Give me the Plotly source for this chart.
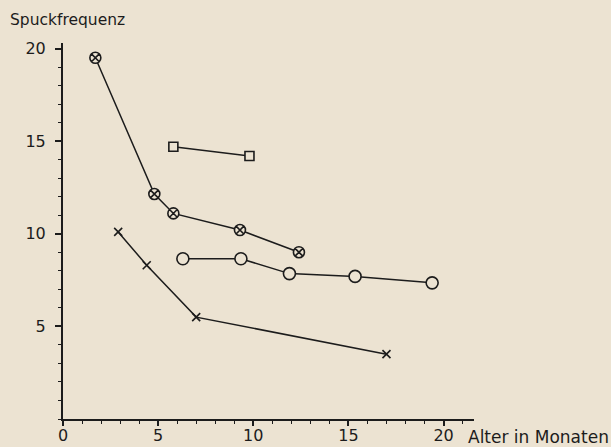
import plotly.graph_objects as go

# Data
age_cx = [1.7, 4.8, 5.8, 9.3, 12.4]
freq_cx = [19.5, 12.15, 11.1, 10.2, 9.0]

age_sq = [5.8, 9.8]
freq_sq = [14.7, 14.2]

age_o = [6.3, 9.35, 11.9, 15.35, 19.4]
freq_o = [8.65, 8.65, 7.85, 7.7, 7.35]

age_x = [2.9, 4.4, 7.0, 17.0]
freq_x = [10.1, 8.3, 5.5, 3.5]

x_ticks = [0, 5, 10, 15, 20]
y_ticks = [5, 10, 15, 20]

BG = "#ece3d2"
INK = "#1c1c1c"

fig = go.Figure()

def add(xs, ys, symbol, size):
    fig.add_trace(go.Scatter(
        x=xs, y=ys, mode="lines+markers",
        line=dict(color=INK, width=1.5),
        marker=dict(symbol=symbol, size=size, color=BG,
                    line=dict(color=INK, width=1.6)),
        showlegend=False, cliponaxis=False))

add(age_cx, freq_cx, "circle-x", 11)
add(age_sq, freq_sq, "square", 9)
add(age_o, freq_o, "circle", 12)
add(age_x, freq_x, "x-thin", 8)

fig.update_layout(
    width=611, height=447,
    paper_bgcolor=BG, plot_bgcolor=BG,
    margin=dict(l=63, r=137, t=43, b=28, autoexpand=False),
    font=dict(family="DejaVu Sans", color=INK, size=16),
    xaxis=dict(range=[0, 21.6], tickvals=x_ticks, ticktext=[str(v) for v in x_ticks],
               showgrid=False, zeroline=False, showline=True, linecolor=INK, linewidth=2,
               ticks="outside", ticklen=5, tickwidth=1.5, tickcolor=INK,
               minor=dict(dtick=1, ticks="outside", ticklen=3, tickcolor=INK, tickwidth=1.2),
               tickfont=dict(size=16), ticklabelstandoff=-4, automargin=False),
    yaxis=dict(range=[0, 20.3], tickvals=y_ticks, ticktext=[str(v) for v in y_ticks],
               showgrid=False, zeroline=False, showline=True, linecolor=INK, linewidth=2,
               ticks="outside", ticklen=6, tickwidth=1.5, tickcolor=INK,
               minor=dict(dtick=1, ticks="outside", ticklen=3, tickcolor=INK, tickwidth=1.2),
               tickfont=dict(size=16), ticklabelstandoff=6, automargin=False),
    annotations=[
        dict(text="Spuckfrequenz", xref="paper", yref="paper", x=-63/411, y=1.0,
             xanchor="left", yanchor="bottom", xshift=8, yshift=12, showarrow=False,
             font=dict(size=15.5, color=INK)),
        dict(text="Alter in Monaten", xref="paper", yref="paper", x=1.0, y=0,
             xanchor="left", yanchor="top", xshift=-8, yshift=-6, showarrow=False,
             font=dict(size=17, color=INK)),
    ],
)

fig.write_html(
    "out.html",
    config={"displayModeBar": False},
    post_script=f"document.body.style.margin='0';document.body.style.background='{BG}';",
)
